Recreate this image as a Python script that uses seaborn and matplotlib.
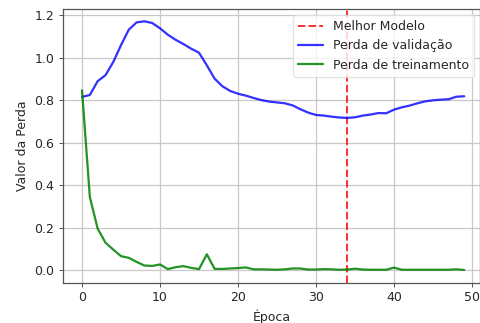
import matplotlib
matplotlib.use("Agg")
import matplotlib.pyplot as plt
import seaborn as sns
import pandas as pd

epochs = list(range(50))
val_loss = [0.816, 0.825, 0.89, 0.918, 0.98, 1.06, 1.133, 1.167, 1.172, 1.164,
            1.139, 1.109, 1.085, 1.065, 1.043, 1.024, 0.965, 0.902, 0.866, 0.844,
            0.831, 0.822, 0.811, 0.801, 0.794, 0.79, 0.786, 0.776, 0.758, 0.742,
            0.731, 0.728, 0.723, 0.719, 0.717, 0.72, 0.728, 0.733, 0.74, 0.739,
            0.756, 0.767, 0.775, 0.786, 0.795, 0.8, 0.803, 0.805, 0.817, 0.819]
train_loss = [0.847, 0.345, 0.196, 0.13, 0.097, 0.066, 0.058, 0.039, 0.022, 0.02,
              0.027, 0.005, 0.014, 0.019, 0.011, 0.005, 0.075, 0.006, 0.006, 0.008,
              0.01, 0.013, 0.004, 0.004, 0.003, 0.002, 0.004, 0.008, 0.008, 0.003,
              0.003, 0.005, 0.004, 0.002, 0.003, 0.007, 0.003, 0.002, 0.002, 0.002,
              0.012, 0.002, 0.002, 0.002, 0.002, 0.002, 0.002, 0.002, 0.004, 0.001]
best_epoch = 34
labels = ["Melhor Modelo", "Perda de validação", "Perda de treinamento"]

sns.set_style("white")
plt.rcParams['font.family'] = ['DejaVu Sans']

DPI = 90
fig = plt.figure(figsize=(481/DPI, 323/DPI), dpi=DPI)
ax = fig.add_axes([63/481, 1 - 282.5/323, (480.5-63)/481, (282.5-9)/323])

df = pd.DataFrame({"epoch": epochs, "val": val_loss, "train": train_loss})

ax.axvline(best_epoch, color="red", linestyle="--", alpha=0.8, linewidth=1.6, label=labels[0])
sns.lineplot(data=df, x="epoch", y="val", ax=ax, color="blue", alpha=0.8, linewidth=1.8, label=labels[1])
sns.lineplot(data=df, x="epoch", y="train", ax=ax, color="green", alpha=0.85, linewidth=1.8, label=labels[2])

ax.set_xlim(-2.44, 51.09)
ax.set_ylim(-0.058, 1.23)
ax.set_xticks([0, 10, 20, 30, 40, 50])
ax.set_yticks([0.0, 0.2, 0.4, 0.6, 0.8, 1.0, 1.2])
ax.grid(True, color="#c8c8c8", linewidth=1.0)
ax.tick_params(axis="both", which="both", length=3.5, width=0.8, color="#555555",
               labelsize=10, labelcolor="#262626", bottom=True, left=True)
for s in ax.spines.values():
    s.set_color("#555555")
    s.set_linewidth(1.0)
ax.set_xlabel("Época", fontsize=10, color="#262626")
ax.set_ylabel("Valor da Perda", fontsize=10, color="#262626")
leg = ax.legend(loc="upper right", fontsize=10, frameon=True)
leg.get_frame().set_edgecolor("#dddddd")

fig.savefig("out.png", dpi=DPI)
